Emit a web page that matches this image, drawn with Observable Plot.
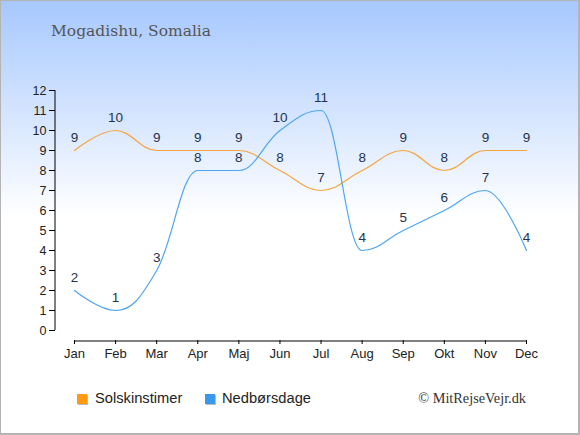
<!DOCTYPE html>
<html>
<head>
<meta charset="utf-8">
<script src="https://cdn.jsdelivr.net/npm/d3@7"></script>
<script src="https://cdn.jsdelivr.net/npm/@observablehq/plot@0.6"></script>
<style>
  html, body { margin: 0; padding: 0; background: #fff; }
  #chart {
    position: relative; width: 580px; height: 435px; overflow: hidden;
    background: linear-gradient(to bottom, #a6c8fe 0%, #ffffff 50%);
  }
  #chart svg { position: absolute; left: 0; top: 0; }
  #border { position: absolute; left: 0; top: 0; width: 580px; height: 435px; box-sizing: border-box;
    border: 1px solid #b4b4b4; border-right-width: 2px; border-bottom-width: 2px; pointer-events: none; }
  #title { position: absolute; left: 51px; top: 22px; font: 15.5px "DejaVu Serif", serif; color: #555; white-space: nowrap; }
  .leg { position: absolute; top: 389px; font: 14.7px "Liberation Sans", Arial, sans-serif; color: #222; line-height: 18px; white-space: nowrap; }
  .sw { position: absolute; top: 394px; width: 10px; height: 10px; box-shadow: 1px 1px 0 #bbb; }
  #copy { position: absolute; right: 54px; top: 389px; font: 14.3px "Liberation Serif", "Times New Roman", serif; color: #333; line-height: 18px; white-space: nowrap; }
</style>
</head>
<body>
<div id="chart">
  <div id="title">Mogadishu, Somalia</div>
  <div class="sw" style="left:77px;background:#ff9a12"></div>
  <div class="leg" style="left:95px">Solskinstimer</div>
  <div class="sw" style="left:205px;background:#3a98ec"></div>
  <div class="leg" style="left:222px">Nedbørsdage</div>
  <div id="copy">© MitRejseVejr.dk</div>
  <div id="border"></div>
</div>
<script>
const months = ["Jan","Feb","Mar","Apr","Maj","Jun","Jul","Aug","Sep","Okt","Nov","Dec"];
const solskinstimer = [9,10,9,9,9,8,7,8,9,8,9,9];
const nedboersdage = [2,1,3,8,8,10,11,4,5,6,7,4];
const yTicks = [0,1,2,3,4,5,6,7,8,9,10,11,12];

// Spline curve with horizontal tangents at local extremes
function curveSpline(context) {
  return {
    _p: [],
    areaStart() {}, areaEnd() {},
    lineStart() { this._p = []; },
    point(x, y) { this._p.push([+x, +y]); },
    lineEnd() {
      const p = this._p, n = p.length, c = context;
      if (!n) return;
      c.moveTo(p[0][0], p[0][1]);
      if (n === 1) return;
      const L = [], R = [];
      const s = 1.5, den = s + 1;
      for (let i = 0; i < n; i++) {
        if (i === 0 || i === n - 1) { L[i] = p[i]; R[i] = p[i]; continue; }
        const [lx, ly] = p[i - 1], [x, y] = p[i], [nx, ny] = p[i + 1];
        const lcx = (s * x + lx) / den; let lcy = (s * y + ly) / den;
        const rcx = (s * x + nx) / den; let rcy = (s * y + ny) / den;
        if (rcx !== lcx) {
          const corr = ((rcy - lcy) * (rcx - x)) / (rcx - lcx) + y - rcy;
          lcy += corr; rcy += corr;
        }
        if (lcy > ly && lcy > y) { lcy = Math.max(ly, y); rcy = 2 * y - lcy; }
        else if (lcy < ly && lcy < y) { lcy = Math.min(ly, y); rcy = 2 * y - lcy; }
        if (rcy > ny && rcy > y) { rcy = Math.max(ny, y); lcy = 2 * y - rcy; }
        else if (rcy < ny && rcy < y) { rcy = Math.min(ny, y); lcy = 2 * y - rcy; }
        L[i] = [lcx, lcy]; R[i] = [rcx, rcy];
      }
      for (let i = 1; i < n; i++) {
        c.bezierCurveTo(R[i - 1][0], R[i - 1][1], L[i][0], L[i][1], p[i][0], p[i][1]);
      }
    }
  };
}

const idx = months.map((m, i) => i);
const sunRows = solskinstimer.map((v, i) => ({i, v}));
const rainRows = nedboersdage.map((v, i) => ({i, v}));

const chart = Plot.plot({
  width: 580,
  height: 435,
  marginLeft: 55,
  marginRight: 54,
  marginTop: 90,
  marginBottom: 95,
  style: { background: "transparent", fontFamily: "'Liberation Sans', Arial, sans-serif", color: "#222", overflow: "visible" },
  x: { type: "linear", domain: [0, 11], insetLeft: 19, label: null },
  y: { type: "linear", domain: [0, 12], insetBottom: 10, label: null },
  marks: [
    Plot.ruleX([0], { x: d => d, y1: 0, y2: 12, dx: -19.5, stroke: "#000", strokeWidth: 1 }),
    Plot.ruleY([0], { y: d => d, x1: 0, x2: 11, dy: 10.5, stroke: "#000", strokeWidth: 1 }),
    Plot.axisY({ ticks: yTicks, tickFormat: d => String(d), tickSize: 6, tickPadding: 3, fontSize: 12.5, stroke: "#000", fill: "#222", label: null }),
    Plot.axisX({ ticks: idx, tickFormat: i => months[i], tickSize: 4, tickPadding: 4, fontSize: 13, stroke: "#000", fill: "#222", label: null }),
    Plot.line(sunRows, { x: "i", y: "v", curve: curveSpline, stroke: "#f8a43c", strokeWidth: 1.2 }),
    Plot.line(rainRows, { x: "i", y: "v", curve: curveSpline, stroke: "#4ea6f0", strokeWidth: 1.2 }),
    Plot.text(sunRows, { x: "i", y: "v", text: d => String(d.v), dy: -13, fill: "#24324e", fontSize: 13.5 }),
    Plot.text(rainRows, { x: "i", y: "v", text: d => String(d.v), dy: -13, fill: "#24324e", fontSize: 13.5 })
  ]
});
document.getElementById("chart").insertBefore(chart, document.getElementById("border"));
</script>
</body>
</html>
